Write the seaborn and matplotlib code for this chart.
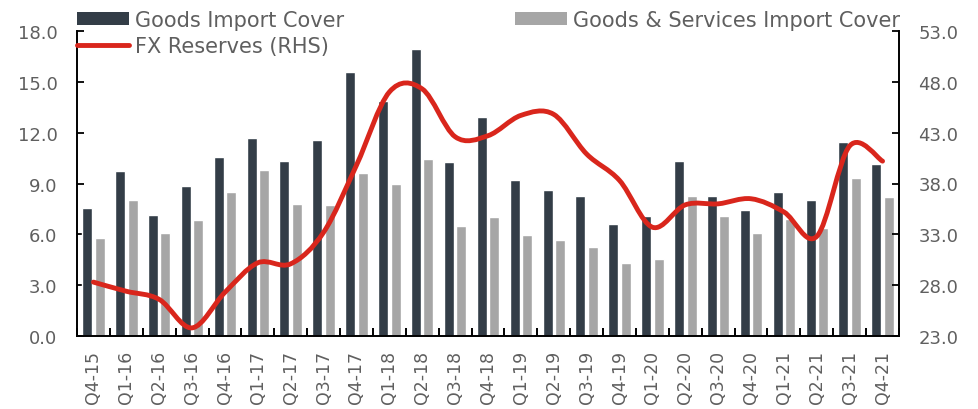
import numpy as np
import pandas as pd
import matplotlib
matplotlib.use("Agg")
import matplotlib.pyplot as plt
import seaborn as sns
from matplotlib.path import Path
from matplotlib.patches import PathPatch, Patch
from matplotlib.lines import Line2D
from matplotlib.ticker import FixedLocator, MultipleLocator, FormatStrFormatter

quarters = ["Q4-15", "Q1-16", "Q2-16", "Q3-16", "Q4-16", "Q1-17", "Q2-17", "Q3-17",
            "Q4-17", "Q1-18", "Q2-18", "Q3-18", "Q4-18", "Q1-19", "Q2-19", "Q3-19",
            "Q4-19", "Q1-20", "Q2-20", "Q3-20", "Q4-20", "Q1-21", "Q2-21", "Q3-21", "Q4-21"]
goods_cover = [7.53, 9.72, 7.14, 8.85, 10.57, 11.69, 10.31, 11.59, 15.58, 13.86, 16.95, 10.25,
               12.95, 9.21, 8.62, 8.26, 6.61, 7.08, 10.31, 8.28, 7.43, 8.52, 8.02, 11.44, 10.17]
gs_cover = [5.78, 8.00, 6.07, 6.84, 8.50, 9.80, 7.81, 7.73, 9.62, 8.99, 10.45, 6.50,
            7.00, 5.94, 5.68, 5.25, 4.30, 4.54, 8.26, 7.08, 6.09, 6.88, 6.37, 9.31, 8.18]
fx_reserves = [28.3, 27.4, 26.6, 23.8, 27.3, 30.2, 30.1, 33.2, 39.8, 47.0, 47.3, 42.6,
               42.7, 44.7, 44.8, 40.9, 38.3, 33.7, 35.9, 36.0, 36.5, 35.2, 32.8, 41.7, 40.2]

left_ticks = [0, 3, 6, 9, 12, 15, 18]
right_ticks = [23, 28, 33, 38, 43, 48, 53]

label_goods = "Goods Import Cover"
label_gs = "Goods & Services Import Cover"
label_fx = "FX Reserves (RHS)"

DARK = "#333D47"
GRAY = "#A6A6A6"
RED = "#D9261C"
TXT = "#5F5F5F"

sns.set_theme(style="white")
plt.rcParams["font.family"] = ["DejaVu Sans"]

df = pd.DataFrame({
    "quarter": quarters * 2,
    "value": goods_cover + gs_cover,
    "series": [label_goods] * len(quarters) + [label_gs] * len(quarters),
})

fig = plt.figure(figsize=(9.79, 4.10), dpi=100)
ax = fig.add_axes([77 / 979, 1 - 337 / 410, (899 - 77) / 979, (337 - 32) / 410])

sns.barplot(data=df, x="quarter", y="value", hue="series", order=quarters,
            hue_order=[label_goods, label_gs], palette=[DARK, GRAY],
            width=0.76, gap=0.2, legend=False, ax=ax, saturation=1)
ax.set_xlim(-0.5, len(quarters) - 0.5)
ax.set_ylim(0, 18)
ax.set_xlabel("")
ax.set_ylabel("")
ax.yaxis.set_major_locator(FixedLocator(left_ticks))
ax.yaxis.set_major_formatter(FormatStrFormatter("%.1f"))

ax2 = ax.twinx()
ax2.set_ylim(23, 53)
ax2.yaxis.set_major_locator(FixedLocator(right_ticks))
ax2.yaxis.set_major_formatter(FormatStrFormatter("%.1f"))

# smooth (Catmull-Rom style) line through the data points
xs = np.arange(len(fx_reserves), dtype=float)
ys = np.array(fx_reserves, dtype=float)
pts = np.column_stack([xs, ys])
ext = np.vstack([pts[0], pts, pts[-1]])
verts = [tuple(pts[0])]
codes = [Path.MOVETO]
for i in range(len(pts) - 1):
    p0, p1, p2, p3 = ext[i], ext[i + 1], ext[i + 2], ext[i + 3]
    c1 = p1 + (p2 - p0) / 6.0
    c2 = p2 - (p3 - p1) / 6.0
    verts += [tuple(c1), tuple(c2), tuple(p2)]
    codes += [Path.CURVE4] * 3
ax2.add_patch(PathPatch(Path(verts, codes), facecolor="none", edgecolor=RED,
                        lw=3.5, capstyle="round", joinstyle="round", zorder=5))

# spines
for a in (ax, ax2):
    a.spines["top"].set_visible(False)
    for s in ("left", "right", "bottom"):
        a.spines[s].set_color("black")
        a.spines[s].set_linewidth(1.4)
ax.spines["right"].set_visible(False)
ax2.spines["left"].set_visible(False)
ax2.spines["bottom"].set_visible(False)

ax.tick_params(axis="y", direction="in", length=5, width=1.3, color="black",
               labelsize=13, labelcolor=TXT, pad=14, left=True)
ax2.tick_params(axis="y", direction="in", length=5, width=1.3, color="black",
                labelsize=13, labelcolor=TXT, pad=14, right=True)
ax.tick_params(axis="x", which="major", length=0, labelsize=12.5, labelcolor=TXT,
               labelrotation=90, pad=10)
ax.xaxis.set_minor_locator(MultipleLocator(1, offset=0.5))
ax.tick_params(axis="x", which="minor", direction="in", length=6, width=1.4,
               color="black", bottom=True)

ax.grid(False)
ax2.grid(False)

h_goods = Patch(facecolor=DARK, edgecolor="none")
h_gs = Patch(facecolor=GRAY, edgecolor="none")
h_fx = Line2D([0], [0], color=RED, lw=3.5)
legkw = dict(frameon=False, fontsize=15, labelcolor=TXT, handlelength=2.5,
             handleheight=0.6, handletextpad=0.3, borderaxespad=0, borderpad=0)
leg1 = fig.legend([h_goods, h_fx], [label_goods, label_fx], loc="upper left",
                  bbox_to_anchor=(77 / 979, 1 - 11 / 410), labelspacing=0.3, **legkw)
leg2 = fig.legend([h_gs], [label_gs], loc="upper right",
                  bbox_to_anchor=(900 / 979, 1 - 11 / 410), **legkw)

fig.savefig("out.png", dpi=100)
